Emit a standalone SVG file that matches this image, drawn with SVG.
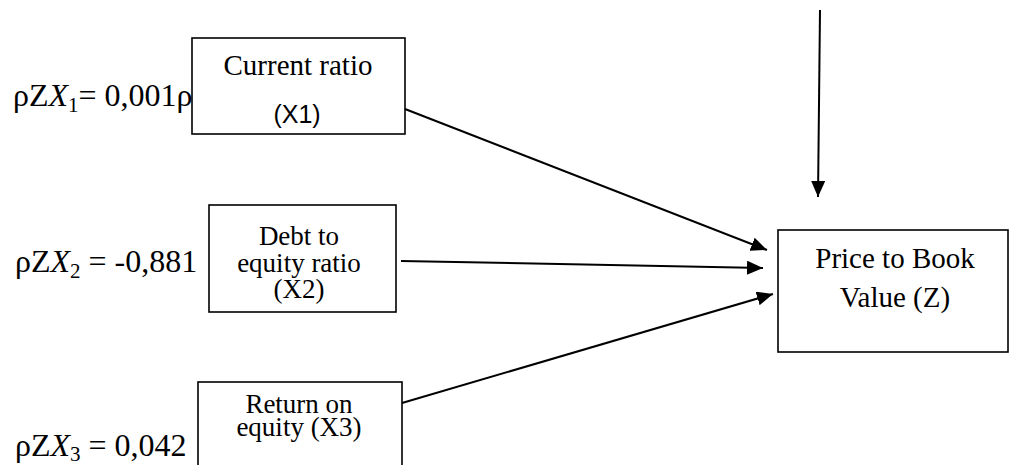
<svg xmlns="http://www.w3.org/2000/svg" width="1010" height="465" viewBox="0 0 1010 465">
<style>
.box{fill:#fff;stroke:#000;stroke-width:1.6}
.t{font-family:"Liberation Serif","Times New Roman",serif;fill:#000}
.s{font-family:"Liberation Sans",Arial,sans-serif;fill:#000}
.c{stroke:#000;stroke-width:2;fill:none}
</style>
<defs>
<marker id="ah" markerUnits="userSpaceOnUse" markerWidth="18" markerHeight="14" refX="16" refY="7" orient="auto">
<path d="M0,0 L16,7 L0,14 Z" fill="#000"/>
</marker>
</defs>
<rect width="1010" height="465" fill="#fff"/>
<g id="labels">
<text class="t" x="13" y="106" font-size="32">ρZ<tspan font-style="italic">X</tspan><tspan font-size="21" dy="6">1</tspan><tspan dy="-6">= 0,001ρ</tspan></text>
<text class="t" x="15" y="272" font-size="32">ρZ<tspan font-style="italic">X</tspan><tspan font-size="21" dy="6">2</tspan><tspan dy="-6"> = -0,881</tspan></text>
<text class="t" x="15" y="456" font-size="32">ρZ<tspan font-style="italic">X</tspan><tspan font-size="21" dy="5">3</tspan><tspan dy="-5"> = 0,042</tspan></text>
</g>
<g id="node-x1">
<rect class="box" x="192" y="38" width="213" height="96"/>
<text class="t" x="298" y="75" font-size="29" text-anchor="middle">Current ratio</text>
<text class="s" x="297" y="123" font-size="25" text-anchor="middle">(X1)</text>
</g>
<g id="node-x2">
<rect class="box" x="209" y="205" width="187" height="107"/>
<text class="t" x="299" y="245" font-size="27" text-anchor="middle">Debt to</text>
<text class="t" x="299" y="272" font-size="27" text-anchor="middle">equity ratio</text>
<text class="t" x="299" y="298" font-size="27" text-anchor="middle">(X2)</text>
</g>
<g id="node-x3">
<rect class="box" x="198" y="382" width="204" height="100"/>
<text class="t" x="299" y="413" font-size="27" text-anchor="middle">Return on</text>
<text class="t" x="299" y="436" font-size="27" text-anchor="middle">equity (X3)</text>
</g>
<g id="node-z">
<rect class="box" x="778" y="230" width="230" height="122"/>
<text class="t" x="895" y="268" font-size="29" text-anchor="middle">Price to Book</text>
<text class="t" x="895" y="307" font-size="29" text-anchor="middle">Value (Z)</text>
</g>
<g id="connectors">
<line class="c" x1="405" y1="109" x2="767" y2="250" marker-end="url(#ah)"/>
<line class="c" x1="401" y1="261" x2="763" y2="268" marker-end="url(#ah)"/>
<line class="c" x1="402" y1="403" x2="773" y2="294" marker-end="url(#ah)"/>
<line class="c" x1="820" y1="10" x2="818" y2="197" marker-end="url(#ah)"/>
</g>
</svg>
